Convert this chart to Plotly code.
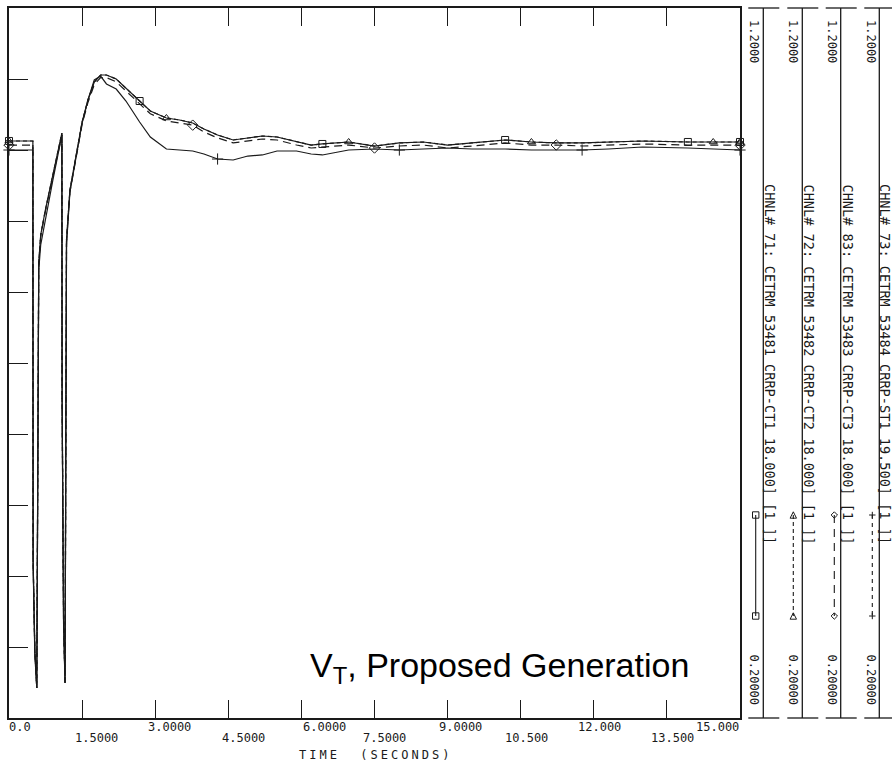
import plotly.graph_objects as go

W, H = 892, 772

# ---------------- data ----------------
time_s = [0.0, 0.49, 0.495, 0.53, 0.57, 0.585, 0.61, 0.65, 0.75, 0.90,
          1.085, 1.09, 1.12, 1.15, 1.165, 1.18, 1.25, 1.35, 1.50, 1.62,
          1.75, 1.88, 2.0, 2.2, 2.4, 2.68, 2.9, 3.23, 3.5, 3.77,
          4.0, 4.28, 4.6, 4.9, 5.2, 5.5, 5.9, 6.2, 6.43, 6.97,
          7.5, 8.01, 8.5, 9.0, 9.5, 10.18, 10.72, 11.23, 11.76, 12.3,
          13.0, 13.93, 14.45, 15.0]

vt_ct1 = [1.0127, 1.0127, 0.4225, 0.2958, 0.2423, 0.5775, 0.8408, 0.8803, 0.9169, 0.9648,
          1.0239, 0.6479, 0.3380, 0.2493, 0.5775, 0.8732, 0.9437, 0.9817, 1.0394, 1.0704,
          1.0958, 1.1056, 1.1056, 1.1000, 1.0873, 1.0690, 1.0549, 1.0451, 1.0423, 1.0380,
          1.0296, 1.0211, 1.0141, 1.0169, 1.0197, 1.0183, 1.0113, 1.0070, 1.0085, 1.0113,
          1.0056, 1.0099, 1.0113, 1.0070, 1.0099, 1.0141, 1.0113, 1.0099, 1.0099, 1.0113,
          1.0127, 1.0113, 1.0113, 1.0113]

vt_ct2 = [1.0127, 1.0127, 0.4225, 0.2958, 0.2423, 0.5775, 0.8408, 0.8803, 0.9169, 0.9648,
          1.0239, 0.6479, 0.3380, 0.2493, 0.5775, 0.8732, 0.9437, 0.9817, 1.0394, 1.0704,
          1.0958, 1.1056, 1.1056, 1.1000, 1.0873, 1.0690, 1.0549, 1.0451, 1.0423, 1.0380,
          1.0296, 1.0211, 1.0141, 1.0169, 1.0197, 1.0183, 1.0113, 1.0070, 1.0085, 1.0113,
          1.0056, 1.0099, 1.0113, 1.0070, 1.0099, 1.0141, 1.0113, 1.0099, 1.0099, 1.0113,
          1.0127, 1.0113, 1.0113, 1.0113]

vt_ct3 = [1.0070, 1.0070, 0.4225, 0.2958, 0.2423, 0.5775, 0.8408, 0.8780, 0.9150, 0.9620,
          1.0210, 0.6479, 0.3380, 0.2493, 0.5775, 0.8710, 0.9410, 0.9790, 1.0360, 1.0670,
          1.0920, 1.1020, 1.1020, 1.0960, 1.0830, 1.0650, 1.0510, 1.0410, 1.0380, 1.0350,
          1.0255, 1.0170, 1.0100, 1.0127, 1.0155, 1.0141, 1.0070, 1.0028, 1.0042, 1.0070,
          1.0028, 1.0056, 1.0070, 1.0028, 1.0056, 1.0099, 1.0070, 1.0070, 1.0056, 1.0070,
          1.0085, 1.0070, 1.0070, 1.0070]

vt_st1 = [1.0000, 1.0000, 0.4155, 0.2887, 0.2423, 0.5634, 0.8310, 0.8662, 0.9042, 0.9577,
          1.0211, 0.6479, 0.3310, 0.2493, 0.5634, 0.8662, 0.9408, 0.9775, 1.0380, 1.0704,
          1.0986, 1.1042, 1.0930, 1.0859, 1.0690, 1.0394, 1.0183, 1.0014, 1.0000, 0.9986,
          0.9944, 0.9873, 0.9859, 0.9915, 0.9930, 0.9986, 0.9986, 0.9944, 0.9930, 1.0000,
          1.0014, 1.0000, 1.0014, 1.0028, 1.0014, 1.0014, 1.0000, 1.0000, 1.0000, 1.0014,
          1.0042, 1.0028, 1.0014, 1.0000]

mark_t_ct1 = [0.0, 2.68, 6.43, 10.18, 13.93, 15.0]
mark_t_ct2 = [0.0, 3.23, 6.97, 10.72, 14.45, 15.0]
mark_t_ct3 = [0.0, 3.77, 7.5, 11.23, 15.0]
mark_t_st1 = [0.0, 4.28, 8.01, 11.76, 15.0]

x_tick_vals = [0.0, 1.5, 3.0, 4.5, 6.0, 7.5, 9.0, 10.5, 12.0, 13.5, 15.0]
x_tick_text = ["0.0", "1.5000", "3.0000", "4.5000", "6.0000", "7.5000",
               "9.0000", "10.500", "12.000", "13.500", "15.000"]
y_tick_vals = [0.2, 0.3, 0.4, 0.5, 0.6, 0.7, 0.8, 0.9, 1.0, 1.1, 1.2]

channel_labels = [
    "CHNL# 71: CETRM 53481 CRRP-CT1 18.000] [1 ]]",
    "CHNL# 72: CETRM 53482 CRRP-CT2 18.000] [1 ]]",
    "CHNL# 83: CETRM 53483 CRRP-CT3 18.000] [1 ]]",
    "CHNL# 73: CETRM 53484 CRRP-ST1 19.500] [1 ]]",
]
scale_max_labels = ["1.2000", "1.2000", "1.2000", "1.2000"]
scale_min_labels = ["0.20000", "0.20000", "0.20000", "0.20000"]
x_axis_title = "TIME  (SECONDS)"
plot_title = "V<sub>T</sub>, Proposed Generation"

# ---------------- layout geometry (pixels) ----------------
def fx(px):
    return px / W


def fy(py):
    return 1 - py / H


LEFT, RIGHT, TOP, BOTTOM = 9, 740, 8, 718
INK = "#1a1a1a"
MONO = "DejaVu Sans Mono"

series = [
    (vt_st1, mark_t_st1, "solid", "cross-thin-open", 8),
    (vt_ct3, mark_t_ct3, "8px,5px", "diamond-open", 8),
    (vt_ct2, mark_t_ct2, "4px,3px", "triangle-up-open", 7),
    (vt_ct1, mark_t_ct1, "solid", "square-open", 7),
]

fig = go.Figure()
for vals, mts, dash, sym, size in series:
    fig.add_trace(go.Scatter(x=time_s, y=vals, mode="lines",
                             line=dict(color=INK, width=1.2, dash=dash),
                             showlegend=False, hoverinfo="skip"))
    mx = [t for t in time_s if t in mts]
    my = [v for t, v in zip(time_s, vals) if t in mts]
    fig.add_trace(go.Scatter(x=mx, y=my, mode="markers", cliponaxis=False,
                             marker=dict(symbol=sym, size=size, color=INK,
                                         line=dict(color=INK, width=1)),
                             showlegend=False, hoverinfo="skip"))

shapes = []
annotations = []

# right-hand channel panels
panel_line_x = [763.3, 802.3, 840.7, 879.3]
num_x = [753.5, 792.5, 831.5, 870.5]
chnl_x = [770, 808.5, 847.5, 885]
key_x = [755.7, 793.3, 834.3, 872.3]
key_dash = ["solid", "4px,3px", "8px,6px", "4px,4px"]
key_sym = ["square", "triangle", "diamond", "plus"]
for i in range(4):
    lx = panel_line_x[i]
    shapes.append(dict(type="line", xref="paper", yref="paper",
                       x0=fx(lx), x1=fx(lx), y0=fy(TOP), y1=fy(BOTTOM),
                       line=dict(color=INK, width=1.3)))
    for yy in (TOP, BOTTOM):
        shapes.append(dict(type="line", xref="paper", yref="paper",
                           x0=fx(lx - 15), x1=fx(min(lx + 16, W)), y0=fy(yy), y1=fy(yy),
                           line=dict(color=INK, width=1.3)))
    annotations.append(dict(text=scale_max_labels[i], xref="paper", yref="paper",
                            x=fx(num_x[i]), y=fy(41.5), showarrow=False, textangle=90,
                            xanchor="center", yanchor="middle",
                            font=dict(family=MONO, size=12, color=INK)))
    annotations.append(dict(text=scale_min_labels[i], xref="paper", yref="paper",
                            x=fx(num_x[i]), y=fy(680), showarrow=False, textangle=90,
                            xanchor="center", yanchor="middle",
                            font=dict(family=MONO, size=12, color=INK)))
    annotations.append(dict(text=channel_labels[i], xref="paper", yref="paper",
                            x=fx(chnl_x[i]), y=fy(364), showarrow=False, textangle=90,
                            xanchor="center", yanchor="middle",
                            font=dict(family=MONO, size=13.6, color=INK)))
    # key sample
    kx = key_x[i]
    shapes.append(dict(type="line", xref="paper", yref="paper",
                       x0=fx(kx), x1=fx(kx), y0=fy(515), y1=fy(616),
                       line=dict(color=INK, width=1.1, dash=key_dash[i])))
    for ky in (515, 616):
        s = 3.2
        if key_sym[i] == "square":
            shapes.append(dict(type="rect", xref="paper", yref="paper",
                               x0=fx(kx - s), x1=fx(kx + s), y0=fy(ky - s), y1=fy(ky + s),
                               line=dict(color=INK, width=1)))
        elif key_sym[i] == "triangle":
            path = "M {} {} L {} {} L {} {} Z".format(
                fx(kx), fy(ky - s), fx(kx - s), fy(ky + s), fx(kx + s), fy(ky + s))
            shapes.append(dict(type="path", xref="paper", yref="paper", path=path,
                               line=dict(color=INK, width=1)))
        elif key_sym[i] == "diamond":
            path = "M {} {} L {} {} L {} {} L {} {} Z".format(
                fx(kx), fy(ky - s), fx(kx + s), fy(ky), fx(kx), fy(ky + s), fx(kx - s), fy(ky))
            shapes.append(dict(type="path", xref="paper", yref="paper", path=path,
                               line=dict(color=INK, width=1)))
        else:
            shapes.append(dict(type="line", xref="paper", yref="paper",
                               x0=fx(kx - s), x1=fx(kx + s), y0=fy(ky), y1=fy(ky),
                               line=dict(color=INK, width=1)))
            shapes.append(dict(type="line", xref="paper", yref="paper",
                               x0=fx(kx), x1=fx(kx), y0=fy(ky - s), y1=fy(ky + s),
                               line=dict(color=INK, width=1)))

# x tick labels (two staggered rows, as in the reference)
label_shift = [10.5, 14, 14, 15, 23, 10, 13, 6, 6, 6, -23]
for i, (tv, tt) in enumerate(zip(x_tick_vals, x_tick_text)):
    row_y = 727 if i % 2 == 0 else 738
    annotations.append(dict(text=tt, xref="x", yref="paper", x=tv, y=fy(row_y),
                            xshift=label_shift[i], showarrow=False,
                            xanchor="center", yanchor="middle",
                            font=dict(family=MONO, size=12, color=INK)))

annotations.append(dict(text='<span style="letter-spacing:3px">' + x_axis_title + "</span>",
                        xref="paper", yref="paper", x=fx(375), y=fy(755),
                        showarrow=False, xanchor="center", yanchor="middle",
                        font=dict(family=MONO, size=12, color=INK)))

annotations.append(dict(text=plot_title, xref="paper", yref="paper",
                        x=fx(500), y=fy(667), showarrow=False,
                        xanchor="center", yanchor="middle",
                        font=dict(family="Liberation Sans, Arial", size=34, color="black")))

fig.update_layout(
    width=W, height=H,
    margin=dict(l=0, r=0, t=0, b=0),
    paper_bgcolor="white", plot_bgcolor="white",
    shapes=shapes, annotations=annotations,
    xaxis=dict(domain=[fx(LEFT), fx(RIGHT)], range=[0, 15], showgrid=False, zeroline=False,
               showline=True, linecolor=INK, linewidth=1.5, mirror="ticks",
               ticks="inside", ticklen=18, tickwidth=1.3, tickcolor=INK,
               tickvals=x_tick_vals, showticklabels=False),
    yaxis=dict(domain=[fy(BOTTOM), fy(TOP)], range=[0.2, 1.2], showgrid=False, zeroline=False,
               showline=True, linecolor=INK, linewidth=1.5, mirror=True,
               ticks="inside", ticklen=19, tickwidth=1.3, tickcolor=INK,
               tickvals=y_tick_vals, showticklabels=False),
)

fig.write_html("out.html")
